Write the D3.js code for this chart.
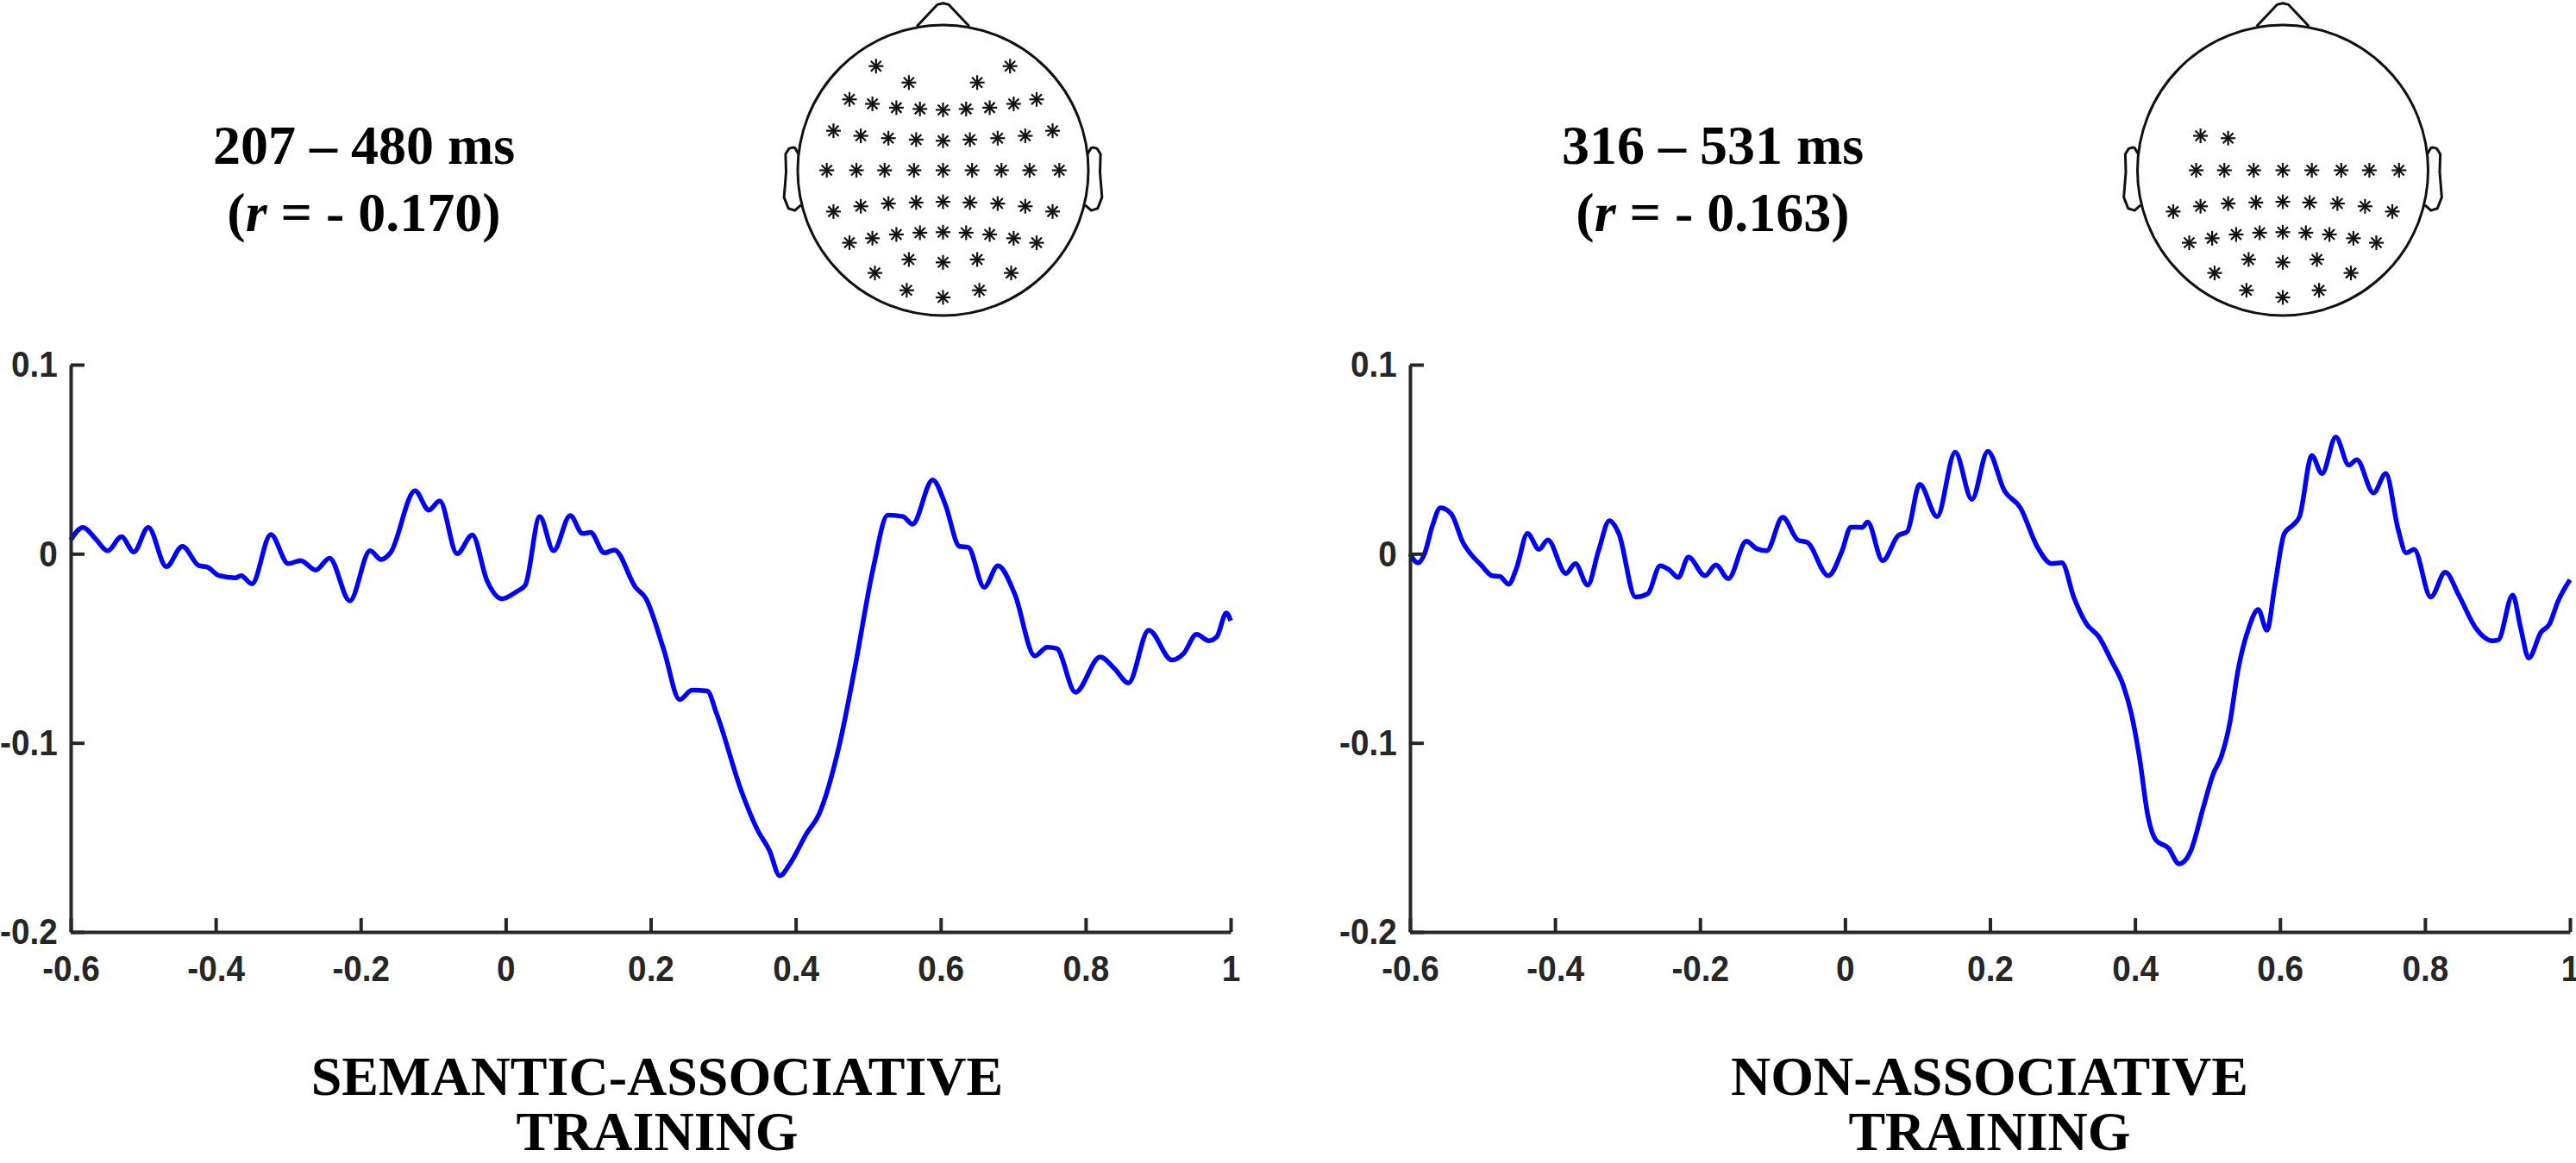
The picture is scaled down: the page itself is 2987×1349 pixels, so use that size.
<!DOCTYPE html>
<html>
<head>
<meta charset="utf-8">
<script src="https://cdn.jsdelivr.net/npm/d3@7"></script>
<style>
  body { margin: 0; background: #fff; }
  svg { display: block; }
</style>
</head>
<body>
<div id="chart"></div>
<script>
// ---- data ----
const timeTicks = [-0.6, -0.4, -0.2, 0, 0.2, 0.4, 0.6, 0.8, 1];
const ampTicks = [0.1, 0, -0.1, -0.2];

// semantic-associative training (left panel)
const semTime = [-0.600, -0.583, -0.566, -0.549, -0.530, -0.513, -0.493, -0.468, -0.446, -0.423,
  -0.412, -0.395, -0.373, -0.365, -0.350, -0.324, -0.300, -0.283, -0.262, -0.243,
  -0.215, -0.187, -0.172, -0.159, -0.125, -0.106, -0.091, -0.067, -0.046, -0.026,
  -0.005, 0.015, 0.027, 0.047, 0.066, 0.089, 0.106, 0.117, 0.136, 0.150,
  0.179, 0.193, 0.218, 0.240, 0.257, 0.278, 0.291, 0.325, 0.347, 0.364,
  0.378, 0.392, 0.415, 0.432, 0.460, 0.482, 0.507, 0.527, 0.548, 0.561,
  0.589, 0.606, 0.626, 0.638, 0.660, 0.679, 0.702, 0.730, 0.747, 0.760,
  0.786, 0.820, 0.840, 0.859, 0.887, 0.919, 0.935, 0.953, 0.970, 0.981,
  0.994, 1.000];
const semAmp = [0.0073, 0.0140, 0.0080, 0.0016, 0.0090, 0.0010, 0.0140, -0.0068, 0.0039, -0.0063,
  -0.0070, -0.0116, -0.0127, -0.0116, -0.0159, 0.0102, -0.0052, -0.0036, -0.0086, -0.0023,
  -0.0249, 0.0016, -0.0030, 0.0005, 0.0333, 0.0231, 0.0280, 0.0000, 0.0100, -0.0140,
  -0.0238, -0.0200, -0.0166, 0.0197, 0.0016, 0.0202, 0.0107, 0.0113, 0.0005, 0.0020,
  -0.0177, -0.0234, -0.0506, -0.0771, -0.0721, -0.0726, -0.0846, -0.1254, -0.1458, -0.1571,
  -0.1703, -0.1640, -0.1480, -0.1379, -0.1016, -0.0596, -0.0075, 0.0204, 0.0197, 0.0156,
  0.0390, 0.0265, 0.0039, 0.0034, -0.0177, -0.0063, -0.0211, -0.0540, -0.0494, -0.0501,
  -0.0732, -0.0546, -0.0608, -0.0683, -0.0404, -0.0562, -0.0528, -0.0426, -0.0460, -0.0438,
  -0.0313, -0.0354];

// non-associative training (right panel)
const nonTime = [-0.600, -0.589, -0.580, -0.569, -0.558, -0.543, -0.527, -0.515, -0.502, -0.487,
  -0.476, -0.464, -0.453, -0.438, -0.422, -0.410, -0.385, -0.372, -0.355, -0.340,
  -0.325, -0.312, -0.289, -0.272, -0.255, -0.242, -0.230, -0.216, -0.193, -0.178,
  -0.161, -0.136, -0.122, -0.108, -0.086, -0.065, -0.052, -0.023, -0.004, 0.008,
  0.024, 0.031, 0.052, 0.073, 0.086, 0.103, 0.127, 0.152, 0.175, 0.197,
  0.220, 0.242, 0.265, 0.285, 0.299, 0.316, 0.333, 0.350, 0.367, 0.384,
  0.395, 0.406, 0.418, 0.429, 0.446, 0.461, 0.477, 0.494, 0.508, 0.519,
  0.531, 0.542, 0.557, 0.570, 0.582, 0.593, 0.606, 0.618, 0.627, 0.644,
  0.658, 0.677, 0.695, 0.706, 0.729, 0.746, 0.763, 0.774, 0.785, 0.808,
  0.828, 0.847, 0.870, 0.893, 0.901, 0.921, 0.932, 0.943, 0.960, 0.972,
  0.983, 1.000];
const nonAmp = [0.0000, -0.0048, 0.0000, 0.0150, 0.0243, 0.0210, 0.0060, -0.0007, -0.0059, -0.0116,
  -0.0120, -0.0161, -0.0075, 0.0107, 0.0023, 0.0073, -0.0104, -0.0052, -0.0166, 0.0016,
  0.0175, 0.0107, -0.0229, -0.0211, -0.0063, -0.0086, -0.0125, -0.0018, -0.0116, -0.0059,
  -0.0132, 0.0066, 0.0027, 0.0016, 0.0193, 0.0073, 0.0060, -0.0116, 0.0016, 0.0141,
  0.0140, 0.0168, -0.0036, 0.0095, 0.0118, 0.0367, 0.0197, 0.0537, 0.0288, 0.0542,
  0.0333, 0.0243, 0.0039, -0.0052, -0.0048, -0.0234, -0.0370, -0.0438, -0.0562, -0.0698,
  -0.0846, -0.1073, -0.1390, -0.1515, -0.1556, -0.1640, -0.1571, -0.1345, -0.1163, -0.1073,
  -0.0891, -0.0619, -0.0392, -0.0295, -0.0404, -0.0166, 0.0107, 0.0152, 0.0197, 0.0519,
  0.0424, 0.0617, 0.0469, 0.0497, 0.0322, 0.0424, 0.0129, 0.0005, 0.0023, -0.0229,
  -0.0098, -0.0222, -0.0392, -0.0460, -0.0456, -0.0218, -0.0392, -0.0551, -0.0415, -0.0370,
  -0.0256, -0.0138];

const windowLabels = ['207 – 480 ms', '316 – 531 ms'];
const rLabels = ['- 0.170', '- 0.163'];
const conditionLabels = [['SEMANTIC-ASSOCIATIVE', 'TRAINING'], ['NON-ASSOCIATIVE', 'TRAINING']];

// channels marked with * in each topography
const sigSemantic = ['Fp1', 'Fp2', 'AF3', 'AF4',
  'F7', 'F5', 'F3', 'F1', 'Fz', 'F2', 'F4', 'F6', 'F8',
  'FT7', 'FC5', 'FC3', 'FC1', 'FCz', 'FC2', 'FC4', 'FC6', 'FT8',
  'T7', 'C5', 'C3', 'C1', 'Cz', 'C2', 'C4', 'C6', 'T8',
  'TP7', 'CP5', 'CP3', 'CP1', 'CPz', 'CP2', 'CP4', 'CP6', 'TP8',
  'P7', 'P5', 'P3', 'P1', 'Pz', 'P2', 'P4', 'P6', 'P8',
  'PO7', 'PO3', 'POz', 'PO4', 'PO8', 'O1', 'Oz', 'O2'];
const sigNonAssoc = ['FC5', 'FC3',
  'C5', 'C3', 'C1', 'Cz', 'C2', 'C4', 'C6', 'T8',
  'TP7', 'CP5', 'CP3', 'CP1', 'CPz', 'CP2', 'CP4', 'CP6', 'TP8',
  'P7', 'P5', 'P3', 'P1', 'Pz', 'P2', 'P4', 'P6', 'P8',
  'PO7', 'PO3', 'POz', 'PO4', 'PO8', 'O1', 'Oz', 'O2'];

// ---- montage layout (x right, y toward back, in head radii) ----
const channelPos = {};
function row(names, xs, ys) {
  names.forEach((n, i) => { channelPos[n] = [xs[i], ys[i]]; });
}
row(['Fp1', 'Fp2'], [-0.461, 0.461], [-0.717, -0.717]);
row(['AF3', 'AF4'], [-0.235, 0.235], [-0.604, -0.604]);
row(['F7', 'F5', 'F3', 'F1', 'Fz', 'F2', 'F4', 'F6', 'F8'],
  [-0.644, -0.486, -0.321, -0.159, 0, 0.159, 0.321, 0.486, 0.644],
  [-0.488, -0.457, -0.431, -0.422, -0.416, -0.422, -0.431, -0.457, -0.488]);
row(['FT7', 'FC5', 'FC3', 'FC1', 'FCz', 'FC2', 'FC4', 'FC6', 'FT8'],
  [-0.754, -0.566, -0.376, -0.185, 0, 0.185, 0.376, 0.566, 0.754],
  [-0.272, -0.237, -0.221, -0.211, -0.203, -0.211, -0.221, -0.237, -0.272]);
row(['T7', 'C5', 'C3', 'C1', 'Cz', 'C2', 'C4', 'C6', 'T8'],
  [-0.8, -0.596, -0.402, -0.2, 0, 0.2, 0.402, 0.596, 0.8],
  [0, 0, 0, 0, 0, 0, 0, 0, 0]);
row(['TP7', 'CP5', 'CP3', 'CP1', 'CPz', 'CP2', 'CP4', 'CP6', 'TP8'],
  [-0.754, -0.566, -0.376, -0.185, 0, 0.185, 0.376, 0.566, 0.754],
  [0.284, 0.248, 0.229, 0.222, 0.217, 0.222, 0.229, 0.248, 0.284]);
row(['P7', 'P5', 'P3', 'P1', 'Pz', 'P2', 'P4', 'P6', 'P8'],
  [-0.644, -0.486, -0.321, -0.159, 0, 0.159, 0.321, 0.486, 0.644],
  [0.499, 0.468, 0.442, 0.430, 0.426, 0.430, 0.442, 0.468, 0.499]);
row(['PO7', 'PO3', 'POz', 'PO4', 'PO8'], [-0.469, -0.235, 0, 0.235, 0.469], [0.707, 0.614, 0.634, 0.614, 0.707]);
row(['O1', 'Oz', 'O2'], [-0.25, 0, 0.25], [0.826, 0.875, 0.826]);

const W = 2987, H = 1349;
const axisColor = '#262626';

const svg = d3.select('#chart').append('svg')
  .attr('width', W).attr('height', H)
  .attr('viewBox', `0 0 ${W} ${H}`);

const panels = [
  { left: 82, right: 1427, time: semTime, amp: semAmp, titleX: 422, labelX: 762, headX: 1093.5, sig: sigSemantic },
  { left: 1635, right: 2980, time: nonTime, amp: nonAmp, titleX: 1986, labelX: 2307, headX: 2647, sig: sigNonAssoc }
];

panels.forEach((p, i) => {
  drawPanel(p);
  drawHead(p.headX, 197.5, 168.5, p.sig);

  // time window + correlation above the plot
  svg.append('text')
    .attr('x', p.titleX).attr('y', 190)
    .attr('class', 'title')
    .text(windowLabels[i]);
  let rt = svg.append('text')
    .attr('x', p.titleX).attr('y', 268)
    .attr('class', 'title');
  rt.append('tspan').text('(');
  rt.append('tspan').attr('font-style', 'italic').text('r');
  rt.append('tspan').text(' = ' + rLabels[i] + ')');

  // condition name under the plot
  conditionLabels[i].forEach((line, k) => {
    svg.append('text')
      .attr('x', p.labelX).attr('y', 1270 + k * 64)
      .attr('class', 'title')
      .text(line);
  });
});

svg.selectAll('text.title')
  .attr('text-anchor', 'middle')
  .attr('font-family', '"Liberation Serif", "Times New Roman", serif')
  .attr('font-weight', 'bold')
  .attr('font-size', 64)
  .attr('fill', '#000');

function drawPanel(p) {
  let x = d3.scaleLinear().domain([-0.6, 1]).range([p.left, p.right]);
  let y = d3.scaleLinear().domain([-0.2, 0.1]).range([1081, 423]);

  let line = d3.line()
    .x(d => x(d[0]))
    .y(d => y(d[1]))
    .curve(d3.curveMonotoneX);

  svg.append('path')
    .datum(d3.zip(p.time, p.amp))
    .attr('fill', 'none')
    .attr('stroke', '#0000ff')
    .attr('stroke-width', 5.5)
    .attr('stroke-linejoin', 'round')
    .attr('d', line);

  // MATLAB style: ticks pointing inward, box off
  let yAxis = svg.append('g')
    .attr('transform', `translate(${p.left},0)`)
    .call(d3.axisLeft(y).tickValues(ampTicks).tickSizeInner(-16).tickSizeOuter(0)
      .tickPadding(17).tickFormat(d => String(d)));
  let xAxis = svg.append('g')
    .attr('transform', 'translate(0,1081)')
    .call(d3.axisBottom(x).tickValues(timeTicks).tickSizeInner(-16).tickSizeOuter(0)
      .tickPadding(26).tickFormat(d => String(d)));

  [yAxis, xAxis].forEach(a => {
    a.select('.domain').attr('stroke', axisColor).attr('stroke-width', 4);
    a.selectAll('.tick line').attr('stroke', axisColor).attr('stroke-width', 4);
    a.selectAll('.tick text')
      .attr('fill', axisColor)
      .attr('font-family', '"Liberation Sans", Arial, sans-serif')
      .attr('font-weight', 'bold')
      .attr('font-size', 43)
      .attr('transform', 'scale(0.9,1)');
  });
}

function drawHead(cx, cy, r, sig) {
  let hg = svg.append('g').attr('transform', `translate(${cx},${cy})`);
  let outline = d3.line();

  hg.append('circle').attr('r', r)
    .attr('fill', 'none').attr('stroke', '#111').attr('stroke-width', 3);

  // nose (EEGLAB proportions)
  hg.append('path')
    .attr('d', outline([[-0.18 * r, -0.9908 * r], [-0.04 * r, -1.14 * r], [0, -1.15 * r],
      [0.04 * r, -1.14 * r], [0.18 * r, -0.9908 * r]]))
    .attr('fill', 'none').attr('stroke', '#111').attr('stroke-width', 3).attr('stroke-linejoin', 'round');

  // ears
  let earX = [.497, .510, .518, .5299, .5419, .54, .547, .532, .510, .489];
  let earY = [.0555, .0775, .0783, .0746, .0555, -.0055, -.0932, -.1313, -.1384, -.1199];
  [-1, 1].forEach(side => {
    hg.append('path')
      .attr('d', outline(earX.map((ex, k) => [side * ex * 2 * r, -earY[k] * 2 * r])))
      .attr('fill', 'none').attr('stroke', '#111').attr('stroke-width', 3).attr('stroke-linejoin', 'round');
  });

  // asterisk markers
  let star = hg.selectAll('g.star').data(sig).enter().append('g')
    .attr('class', 'star')
    .attr('transform', d => `translate(${channelPos[d][0] * r},${channelPos[d][1] * r})`);
  let arms = [[-8.5, 0, 8.5, 0], [0, -8.5, 0, 8.5], [-6, -6, 6, 6], [-6, 6, 6, -6]];
  arms.forEach(a => {
    star.append('line')
      .attr('x1', a[0]).attr('y1', a[1]).attr('x2', a[2]).attr('y2', a[3])
      .attr('stroke', '#111').attr('stroke-width', 2.2);
  });
}
</script>
</body>
</html>
